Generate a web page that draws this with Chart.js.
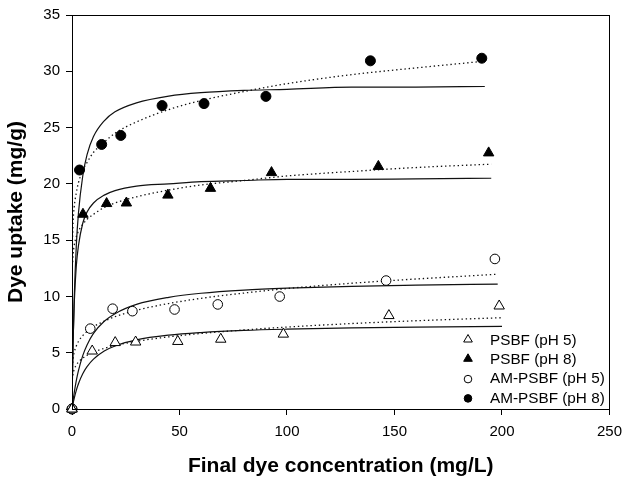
<!DOCTYPE html>
<html>
<head>
<meta charset="utf-8">
<script src="https://cdn.jsdelivr.net/npm/chart.js@4.4.1/dist/chart.umd.min.js"></script>
<style>
  html, body { margin: 0; padding: 0; background: #fff; }
  #wrap { width: 630px; height: 482px; }
</style>
</head>
<body>
<div id="wrap"><canvas id="chart" width="630" height="482"></canvas></div>
<script>
// measured points
const psbf5X = [0, 9.4, 20.1, 29.6, 49.2, 69.2, 98.3, 147.4, 198.7];
const psbf5Y = [0, 5.15, 5.9, 5.95, 6.0, 6.2, 6.65, 8.3, 9.15];
const psbf8X = [0, 5.1, 16.1, 25.3, 44.6, 64.4, 92.8, 142.5, 193.8];
const psbf8Y = [0, 17.3, 18.25, 18.3, 19.0, 19.6, 21.0, 21.55, 22.75];
const am5X = [0, 8.5, 18.9, 28.1, 47.7, 67.8, 96.6, 146.1, 196.7];
const am5Y = [0, 7.14, 8.91, 8.69, 8.84, 9.29, 9.99, 11.41, 13.33];
const am8X = [0, 3.5, 13.8, 22.7, 41.9, 61.4, 90.2, 138.8, 190.6];
const am8Y = [0, 21.23, 23.5, 24.3, 26.95, 27.13, 27.77, 30.93, 31.16];

// fitted curves (solid = Langmuir, dotted = Freundlich)
const fitX = [0, 0.05, 0.2, 0.5, 1, 2, 3, 5, 7, 10, 15, 20, 30, 45, 60, 80, 100, 130, 160];
const psbf5End = 200, psbf8End = 195, am5End = 198, am8End = 192;
const psbf5Lang = [0, 0.05, 0.21, 0.5, 0.93, 1.66, 2.25, 3.13, 3.76, 4.43, 5.15, 5.6, 6.14, 6.56, 6.79, 6.98, 7.09, 7.2, 7.28, 7.34];
const psbf5Freu = [0, 2.17, 2.71, 3.14, 3.5, 3.91, 4.17, 4.52, 4.77, 5.05, 5.39, 5.64, 6.01, 6.41, 6.71, 7.02, 7.28, 7.59, 7.84, 8.11];
const psbf8Lang = [0, 0.79, 2.84, 5.89, 9.2, 12.7, 14.5, 16.5, 17.5, 18.3, 19.0, 19.4, 19.8, 20.0, 20.2, 20.3, 20.4, 20.4, 20.45, 20.5];
const psbf8Freu = [0, 11.5, 12.8, 13.7, 14.5, 15.3, 15.8, 16.4, 16.85, 17.3, 17.9, 18.3, 18.85, 19.45, 19.9, 20.3, 20.7, 21.1, 21.45, 21.75];
const am5Lang = [0, 0.08, 0.31, 0.75, 1.41, 2.52, 3.4, 4.74, 5.69, 6.71, 7.79, 8.47, 9.29, 9.92, 10.28, 10.56, 10.73, 10.9, 11.0, 11.1];
const am5Freu = [0, 3.05, 3.83, 4.46, 5.0, 5.6, 6.0, 6.52, 6.9, 7.31, 7.8, 8.2, 8.77, 9.37, 9.83, 10.3, 10.7, 11.17, 11.55, 11.97];
const am8Lang = [0, 0.71, 2.64, 5.8, 9.67, 14.5, 17.4, 20.7, 22.6, 24.2, 25.6, 26.4, 27.2, 27.8, 28.1, 28.3, 28.4, 28.6, 28.6, 28.65];
const am8Freu = [0, 13.1, 15.1, 16.6, 17.9, 19.2, 20.1, 21.2, 21.9, 22.8, 23.7, 24.5, 25.5, 26.6, 27.4, 28.2, 28.9, 29.7, 30.3, 30.9];

const seriesNames = ["PSBF (pH 5)", "PSBF (pH 8)", "AM-PSBF (pH 5)", "AM-PSBF (pH 8)"];
const xTicks = [0, 50, 100, 150, 200, 250];
const yTicks = [0, 5, 10, 15, 20, 25, 30, 35];

const FONT = "'Liberation Sans', Arial, sans-serif";
Chart.defaults.font.family = FONT;
Chart.defaults.color = "#000";

function pts(xs, ys) {
  return xs.map((x, i) => ({ x: x, y: ys[i] }));
}

function curve(ys, end, dotted) {
  return {
    type: "scatter",
    data: pts(fitX.concat([end]), ys),
    showLine: true,
    pointRadius: 0,
    borderColor: "#111",
    borderWidth: dotted ? 1.3 : 1.2,
    borderDash: dotted ? [1.4, 2.8] : [],
    cubicInterpolationMode: "monotone",
    order: 2
  };
}

const markers = [
  { pointStyle: "triangle", radius: 6, fill: "#fff" },
  { pointStyle: "triangle", radius: 6, fill: "#000" },
  { pointStyle: "circle", radius: 4.8, fill: "#fff" },
  { pointStyle: "circle", radius: 5, fill: "#000" }
];

function points(xs, ys, k) {
  const m = markers[k];
  return {
    type: "scatter",
    label: seriesNames[k],
    data: pts(xs, ys),
    pointStyle: m.pointStyle,
    pointRadius: m.radius,
    pointHoverRadius: m.radius,
    pointBackgroundColor: m.fill,
    pointBorderColor: "#000",
    pointBorderWidth: 1,
    showLine: false,
    clip: false,
    order: 0
  };
}

const framePlugin = {
  id: "frame",
  afterDatasetsDraw(chart) {
    const { ctx, chartArea: a } = chart;
    ctx.save();
    ctx.strokeStyle = "#000";
    ctx.lineWidth = 1;
    ctx.strokeRect(Math.round(a.left) + 0.5, Math.round(a.top) + 0.5,
      Math.round(a.right - a.left), Math.round(a.bottom - a.top));
    ctx.restore();
  }
};

const legendPlugin = {
  id: "boxLegend",
  afterDraw(chart) {
    const ctx = chart.ctx;
    ctx.save();
    ctx.font = "15.3px " + FONT;
    ctx.textBaseline = "middle";
    ctx.textAlign = "left";
    seriesNames.forEach((name, k) => {
      const m = markers[k];
      const y = 340.5 + k * 19.3;
      ctx.fillStyle = m.fill;
      ctx.strokeStyle = "#000";
      ctx.lineWidth = 1;
      Chart.helpers.drawPoint(ctx, {
        pointStyle: m.pointStyle,
        radius: m.pointStyle === "triangle" ? 5 : 3.8,
        rotation: 0,
        borderWidth: 1
      }, 468, m.pointStyle === "triangle" ? y - 1 : y);
      ctx.fillStyle = "#000";
      ctx.fillText(name, 490, y);
    });
    ctx.restore();
  }
};

new Chart(document.getElementById("chart"), {
  type: "scatter",
  data: {
    datasets: [
      points(psbf5X, psbf5Y, 0),
      points(psbf8X, psbf8Y, 1),
      points(am5X, am5Y, 2),
      points(am8X, am8Y, 3),
      curve(psbf5Lang, psbf5End, false),
      curve(psbf5Freu, psbf5End, true),
      curve(psbf8Lang, psbf8End, false),
      curve(psbf8Freu, psbf8End, true),
      curve(am5Lang, am5End, false),
      curve(am5Freu, am5End, true),
      curve(am8Lang, am8End, false),
      curve(am8Freu, am8End, true)
    ]
  },
  options: {
    responsive: false,
    animation: false,
    events: [],
    layout: { padding: { left: 0, right: 14, top: 13, bottom: 0 } },
    plugins: {
      legend: { display: false },
      tooltip: { enabled: false }
    },
    scales: {
      x: {
        type: "linear",
        min: 0,
        max: 250,
        afterFit: s => { s.height = 73; },
        afterBuildTicks: s => { s.ticks = xTicks.map(v => ({ value: v })); },
        grid: { display: true, drawOnChartArea: false, drawTicks: true, tickLength: 6, color: "#000" },
        border: { display: true, color: "#000", width: 1 },
        ticks: { font: { size: 15 }, padding: 8, maxRotation: 0, color: "#000" },
        title: {
          display: true,
          text: "Final dye concentration (mg/L)",
          font: { size: 21, weight: "bold" },
          padding: { top: 0, bottom: 3 },
          color: "#000"
        }
      },
      y: {
        type: "linear",
        min: 0,
        max: 35,
        afterFit: s => { s.width = 72; },
        afterBuildTicks: s => { s.ticks = yTicks.map(v => ({ value: v })); },
        grid: { display: true, drawOnChartArea: false, drawTicks: true, tickLength: 6, color: "#000" },
        border: { display: true, color: "#000", width: 1 },
        ticks: { font: { size: 15 }, padding: 6, color: "#000" },
        title: {
          display: true,
          text: "Dye uptake (mg/g)",
          font: { size: 21, weight: "bold" },
          padding: { top: 4, bottom: 0 },
          color: "#000"
        }
      }
    }
  },
  plugins: [framePlugin, legendPlugin]
});
</script>
</body>
</html>
